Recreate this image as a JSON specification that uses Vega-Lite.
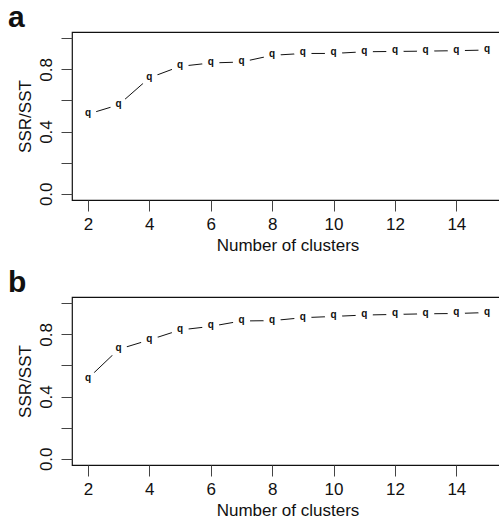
{
  "$schema": "https://vega.github.io/schema/vega-lite/v6.json",
  "background": "white",
  "padding": {"left": 7, "top": 2, "right": 0, "bottom": 0},
  "spacing": 13,
  "config": {
    "font": "Liberation Sans",
    "view": {"stroke": "#111", "strokeWidth": 1.2},
    "axis": {
      "domain": false,
      "grid": false,
      "ticks": true,
      "tickColor": "#444",
      "tickSize": 11,
      "tickWidth": 1,
      "labelFont": "Liberation Sans",
      "labelFontSize": 17,
      "labelColor": "#111",
      "titleFont": "Liberation Sans",
      "titleFontSize": 17,
      "titleFontWeight": "normal",
      "titleColor": "#111"
    },
    "title": {
      "font": "Liberation Sans",
      "fontSize": 30,
      "fontWeight": "bold",
      "anchor": "start",
      "baseline": "alphabetic",
      "offset": -1,
      "dx": -8,
      "color": "#111"
    }
  },
  "datasets": {
    "a": [
      {"k": 2, "r": 0.512}, {"k": 3, "r": 0.572}, {"k": 4, "r": 0.745}, {"k": 5, "r": 0.819},
      {"k": 6, "r": 0.841}, {"k": 7, "r": 0.847}, {"k": 8, "r": 0.89}, {"k": 9, "r": 0.902},
      {"k": 10, "r": 0.902}, {"k": 11, "r": 0.913}, {"k": 12, "r": 0.915}, {"k": 13, "r": 0.917},
      {"k": 14, "r": 0.92}, {"k": 15, "r": 0.924}
    ],
    "b": [
      {"k": 2, "r": 0.516}, {"k": 3, "r": 0.704}, {"k": 4, "r": 0.764}, {"k": 5, "r": 0.828},
      {"k": 6, "r": 0.851}, {"k": 7, "r": 0.886}, {"k": 8, "r": 0.888}, {"k": 9, "r": 0.907},
      {"k": 10, "r": 0.915}, {"k": 11, "r": 0.924}, {"k": 12, "r": 0.928}, {"k": 13, "r": 0.932},
      {"k": 14, "r": 0.934}, {"k": 15, "r": 0.94}
    ]
  },
  "vconcat": [
    {
      "title": {"text": "a"},
      "width": 431,
      "height": 168,
      "data": {"name": "a"},
      "encoding": {
        "x": {"field": "k", "type": "quantitative",
              "scale": {"domain": [1.48, 15.52], "nice": false, "zero": false},
              "axis": {"values": [2, 4, 6, 8, 10, 12, 14], "title": "Number of clusters", "labelPadding": 5, "titlePadding": 5}},
        "y": {"field": "r", "type": "quantitative",
              "scale": {"domain": [-0.04, 1.04], "nice": false, "zero": false},
              "axis": {"values": [0, 0.2, 0.4, 0.6, 0.8, 1.0], "title": "SSR/SST", "labelAngle": -90,
                       "labelAlign": "center", "labelBaseline": "bottom", "labelPadding": 6, "titlePadding": 3,
                       "labelExpr": "(datum.value == 0 || abs(datum.value - 0.4) < 0.001 || abs(datum.value - 0.8) < 0.001) ? format(datum.value, '.1f') : ''"}}
      },
      "layer": [
        {"mark": {"type": "line", "color": "#111", "strokeWidth": 1}},
        {"mark": {"type": "point", "shape": "circle", "filled": true, "color": "white", "opacity": 1, "size": 300}},
        {"mark": {"type": "text", "text": "q", "fontSize": 10, "fontWeight": "bold", "color": "#111", "align": "center", "baseline": "middle", "dy": -1}}
      ]
    },
    {
      "title": {"text": "b"},
      "width": 431,
      "height": 168,
      "data": {"name": "b"},
      "encoding": {
        "x": {"field": "k", "type": "quantitative",
              "scale": {"domain": [1.48, 15.52], "nice": false, "zero": false},
              "axis": {"values": [2, 4, 6, 8, 10, 12, 14], "title": "Number of clusters", "labelPadding": 5, "titlePadding": 5}},
        "y": {"field": "r", "type": "quantitative",
              "scale": {"domain": [-0.04, 1.04], "nice": false, "zero": false},
              "axis": {"values": [0, 0.2, 0.4, 0.6, 0.8, 1.0], "title": "SSR/SST", "labelAngle": -90,
                       "labelAlign": "center", "labelBaseline": "bottom", "labelPadding": 6, "titlePadding": 3,
                       "labelExpr": "(datum.value == 0 || abs(datum.value - 0.4) < 0.001 || abs(datum.value - 0.8) < 0.001) ? format(datum.value, '.1f') : ''"}}
      },
      "layer": [
        {"mark": {"type": "line", "color": "#111", "strokeWidth": 1}},
        {"mark": {"type": "point", "shape": "circle", "filled": true, "color": "white", "opacity": 1, "size": 300}},
        {"mark": {"type": "text", "text": "q", "fontSize": 10, "fontWeight": "bold", "color": "#111", "align": "center", "baseline": "middle", "dy": -1}}
      ]
    }
  ]
}
